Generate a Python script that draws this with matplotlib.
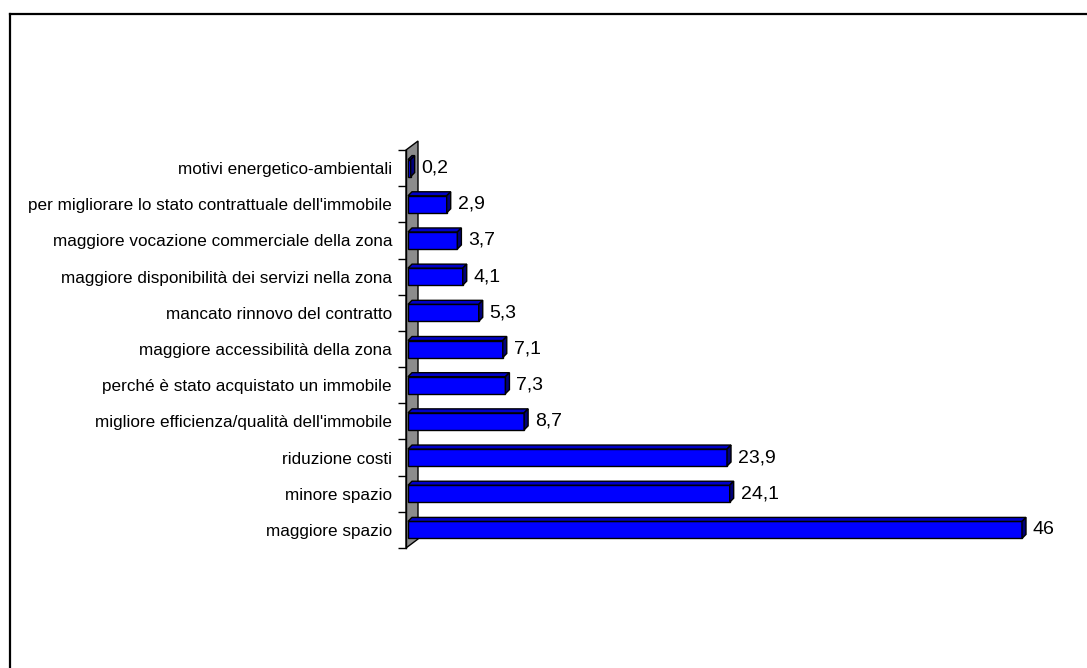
import numpy as np
import matplotlib
matplotlib.use("Agg")
import matplotlib.pyplot as plt
from matplotlib.patches import Polygon
from matplotlib.lines import Line2D

plt.rcParams['font.family'] = ['Liberation Sans', 'DejaVu Sans']

categories = [
    "maggiore spazio",
    "minore spazio",
    "riduzione costi",
    "migliore efficienza/qualità dell'immobile",
    "perché è stato acquistato un immobile",
    "maggiore accessibilità della zona",
    "mancato rinnovo del contratto",
    "maggiore disponibilità dei servizi nella zona",
    "maggiore vocazione commerciale della zona",
    "per migliorare lo stato contrattuale dell'immobile",
    "motivi energetico-ambientali",
]
values = [46, 24.1, 23.9, 8.7, 7.3, 7.1, 5.3, 4.1, 3.7, 2.9, 0.2]
value_labels = ["46", "24,1", "23,9", "8,7", "7,3", "7,1", "5,3", "4,1", "3,7", "2,9", "0,2"]

W, H = 1087, 668
fig = plt.figure(figsize=(W / 100, H / 100), dpi=100)

# plot area in pixels
px_left, px_right = 406, 1022
px_top, px_bot = 150, 548
ax = fig.add_axes([px_left / W, 1 - px_bot / H,
                   (px_right - px_left) / W, (px_bot - px_top) / H])

n = len(categories)
xmax = 46.0
x0 = -2 * xmax / (px_right - 2 - px_left)   # axis slightly left of zero
ax.set_xlim(x0, xmax)
ax.set_ylim(-0.5, n - 0.5)

ppx = (px_right - px_left) / (xmax - x0)     # pixels per x unit
ppy = (px_bot - px_top) / n                  # pixels per y unit

# side wall behind the bars
wdx, wdy = 12 / ppx, 9 / ppy
wall = Polygon([(x0, -0.5), (x0 + wdx, -0.5 + wdy), (x0 + wdx, n - 0.5 + wdy),
                (x0, n - 0.5)], closed=True, facecolor="#8c8c8c",
               edgecolor="black", lw=1, zorder=1, clip_on=False)
ax.add_patch(wall)

# 3d bars
bh = 17 / ppy
ddx, ddy = 4 / ppx, 4 / ppy
for i, v in enumerate(values):
    yb, yt = i - bh / 2, i + bh / 2
    front = Polygon([(0, yb), (v, yb), (v, yt), (0, yt)], closed=True,
                    facecolor="#0000ff", edgecolor="black", lw=1, zorder=3)
    top = Polygon([(0, yt), (v, yt), (v + ddx, yt + ddy), (ddx, yt + ddy)],
                  closed=True, facecolor="#0000c8", edgecolor="black", lw=1,
                  zorder=3)
    side = Polygon([(v, yb), (v + ddx, yb + ddy), (v + ddx, yt + ddy), (v, yt)],
                   closed=True, facecolor="#00007a", edgecolor="black", lw=1,
                   zorder=3)
    for p in (front, top, side):
        p.set_clip_on(False)
        ax.add_patch(p)
    ax.annotate(value_labels[i], xy=(v + ddx, i), xytext=(5, 0),
                textcoords="offset points", va="center", ha="left",
                fontsize=14, zorder=4, annotation_clip=False)

for s in ("top", "right", "bottom"):
    ax.spines[s].set_visible(False)
ax.spines["left"].set_linewidth(1)
ax.set_xticks([])
ax.set_yticks(np.arange(n))
ax.set_yticklabels(categories, fontsize=12.3)
ax.set_yticks(np.arange(n + 1) - 0.5, minor=True)
ax.tick_params(axis="y", which="major", length=0, pad=10)
ax.tick_params(axis="y", which="minor", length=6, width=1, direction="out")
ax.patch.set_alpha(0)

# outer frame (top and left edges)
fig.add_artist(Line2D([10 / W, 1], [1 - 14 / H, 1 - 14 / H],
                      transform=fig.transFigure, color="black", lw=1.6))
fig.add_artist(Line2D([10 / W, 10 / W], [0, 1 - 14 / H],
                      transform=fig.transFigure, color="black", lw=1.6))

fig.savefig("out.png", dpi=100)
